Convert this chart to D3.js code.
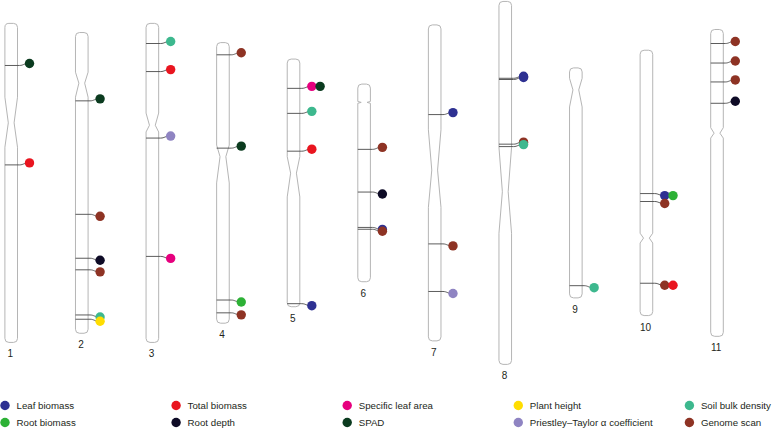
<!DOCTYPE html>
<html><head><meta charset="utf-8">
<script src="https://cdn.jsdelivr.net/npm/d3@7"></script>
<style>body{margin:0;background:#fff}svg{display:block}text{font-family:"Liberation Sans",Arial,sans-serif}</style>
</head><body>
<script>
// ---- data ----
const chromosomes = ["1","2","3","4","5","6","7","8","9","10","11"];
const chrLength = [52.3, 49.3, 52.3, 46.0, 40.6, 32.4, 51.8, 59.5, 37.7, 43.5, 50.3]; // Mb
const cenStart  = [12.1, 6.5, 14.7, 16.8, 16.0, 2.85, 17.2, 23.9, 1.7, 30.0, 16.1];
const cenMid    = [16.3, 8.3, 16.7, 18.7, 18.7, 3.0, 23.8, 31.2, 3.6, 30.8, 17.0];
const cenEnd    = [20.3, 10.6, 17.8, 23.0, 22.6, 3.15, 29.9, 38.0, 6.4, 31.6, 17.8];

const traits = ["Leaf biomass","Root biomass","Total biomass","Root depth","Specific leaf area","SPAD",
  "Plant height","Priestley\u2013Taylor \u03b1 coefficient","Soil bulk density","Genome scan"];
const traitColors = ["#2E3192","#2DB136","#E9151F","#0E0B26","#E6007E","#0B3B1F",
  "#FFDD00","#8F84C2","#3DB88E","#8E3324"];

const markerChr = ["1","1",
  "2","2","2","2","2","2",
  "3","3","3","3",
  "4","4","4","4",
  "5","5","5","5","5",
  "6","6","6","6",
  "7","7","7",
  "8","8","8","8",
  "9",
  "10","10","10","10","10",
  "11","11","11","11"];
const markerPos = [6.9, 23.2,
  11.2, 29.8, 37.0, 38.9, 46.3, 47.0,
  3.3, 7.9, 18.8, 38.2,
  2.0, 17.3, 42.2, 44.3,
  4.8, 4.8, 8.9, 15.1, 40.1,
  10.7, 17.7, 23.5, 23.8,
  14.7, 35.9, 43.7,
  12.6, 12.8, 23.4, 23.8,
  35.7,
  23.5, 23.5, 24.8, 38.2, 38.2,
  2.3, 5.5, 8.6, 12.1];
const markerTrait = ["SPAD","Total biomass",
  "SPAD","Genome scan","Root depth","Genome scan","Soil bulk density","Plant height",
  "Soil bulk density","Total biomass","Priestley\u2013Taylor \u03b1 coefficient","Specific leaf area",
  "Genome scan","SPAD","Root biomass","Genome scan",
  "Specific leaf area","SPAD","Soil bulk density","Total biomass","Leaf biomass",
  "Genome scan","Root depth","Leaf biomass","Genome scan",
  "Leaf biomass","Genome scan","Priestley\u2013Taylor \u03b1 coefficient",
  "Leaf biomass","Leaf biomass","Genome scan","Soil bulk density",
  "Soil bulk density",
  "Leaf biomass","Root biomass","Genome scan","Genome scan","Total biomass",
  "Genome scan","Genome scan","Genome scan","Root depth"];

// ---- layout ----
const W = 772, H = 429;
const svg = d3.select("body").append("svg").attr("width", W).attr("height", H);
const x = d3.scalePoint().domain(chromosomes).range([11.2, 717]);
const k = d3.scaleLinear().domain([0, 60]).range([0, 366]);
const color = d3.scaleOrdinal().domain(traits).range(traitColors);
const midY = 182.9, chrW = 12.6, rr = 4, depth = 3.4;
const chrTop = i => midY - k(chrLength[i]) / 2;
const yOf = (i, p) => chrTop(i) + k(p);

// chromosomes
chromosomes.forEach((c, i) => {
  const cx = x(c), xl = cx - chrW / 2, xr = cx + chrW / 2;
  const t = chrTop(i), b = t + k(chrLength[i]);
  const ys = yOf(i, cenStart[i]), ym = yOf(i, cenMid[i]), ye = yOf(i, cenEnd[i]);
  const d = `M${xl + rr},${t} H${xr - rr} A${rr},${rr} 0 0 1 ${xr},${t + rr} V${ys} L${xr - depth},${ym} L${xr},${ye} V${b - rr} A${rr},${rr} 0 0 1 ${xr - rr},${b} H${xl + rr} A${rr},${rr} 0 0 1 ${xl},${b - rr} V${ye} L${xl + depth},${ym} L${xl},${ys} V${t + rr} A${rr},${rr} 0 0 1 ${xl + rr},${t} Z`;
  svg.append("path").attr("d", d).attr("fill", "#fff").attr("stroke", "#b5b5b5").attr("stroke-width", 1);
  svg.append("text").attr("x", cx - 0.8).attr("y", b + 15).attr("text-anchor", "middle")
    .attr("font-size", 10).attr("fill", "#231f20").text(c);
});

// markers
const slotCount = {};
const markers = markerChr.map((c, j) => {
  const key = c + "_" + markerPos[j];
  const slot = slotCount[key] || 0;
  slotCount[key] = slot + 1;
  return { c, i: chromosomes.indexOf(c), pos: markerPos[j], trait: markerTrait[j], slot };
});
const gl = svg.append("g"), gd = svg.append("g");
markers.forEach(m => {
  const cx = x(m.c), xl = cx - chrW / 2, xr = cx + chrW / 2;
  const y = yOf(m.i, m.pos);
  const dy = y + (y < midY ? -2 : 2);
  const dx = xr + 12 + m.slot * 8.3;
  if (m.slot === 0) {
    gl.append("path").attr("d", `M${xl},${y} H${xr + 2} C${xr + 6},${y} ${xr + 6},${dy} ${xr + 12},${dy}`)
      .attr("fill", "none").attr("stroke", "#4a4a4a").attr("stroke-width", 0.9);
  }
  gd.append("circle").attr("cx", dx).attr("cy", dy).attr("r", 4.7).attr("fill", color(m.trait));
});

// legend
const lg = svg.append("g");
traits.forEach((t, j) => {
  const col = Math.floor(j / 2), row = j % 2;
  const lx = 5 + col * 171.1, ly = 405.5 + row * 17;
  lg.append("circle").attr("cx", lx).attr("cy", ly).attr("r", 4.7).attr("fill", color(t));
  lg.append("text").attr("x", lx + 11.5).attr("y", ly + 3.5).attr("font-size", 9.7)
    .attr("fill", "#231f20").text(t);
});
</script>
</body></html>
